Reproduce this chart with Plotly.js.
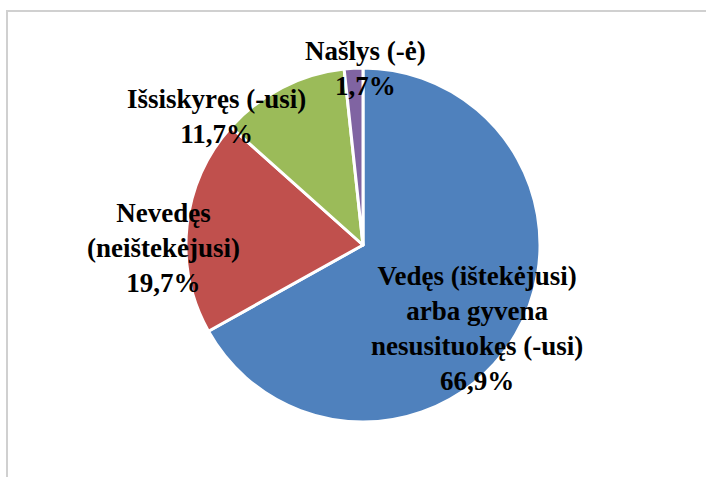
<!DOCTYPE html>
<html>
<head>
<meta charset="utf-8">
<script src="https://cdn.plot.ly/plotly-3.0.1.min.js"></script>
<style>html,body{margin:0;padding:0;background:#fff;}#chart{width:706px;height:477px;}</style>
</head>
<body>
<div id="chart"></div>
<script>
const categories = ["Vedęs (ištekėjusi)<br>arba gyvena<br>nesusituokęs (-usi)", "Nevedęs<br>(neištekėjusi)", "Išsiskyręs (-usi)", "Našlys (-ė)"];
const values = [66.9, 19.7, 11.7, 1.7];
const colors = ["#4F81BD", "#C0504D", "#9BBB59", "#8064A2"];
// label anchor positions (paper fraction) for each slice's text
const labelX = [0.676, 0.231, 0.307, 0.517];
const labelY = [0.311, 0.480, 0.755, 0.857];

const W = 706, H = 477;
const fmt = v => v.toFixed(1).replace('.', ',') + '%';

const trace = {
  type: 'pie',
  values: values,
  labels: categories,
  sort: false,
  direction: 'clockwise',
  rotation: 0,
  textinfo: 'none',
  hoverinfo: 'none',
  marker: {colors: colors, line: {color: '#ffffff', width: 3}},
  domain: {x: [(363-178)/W, (363+178)/W], y: [(232-177)/H, (232+177)/H]},
  showlegend: false
};

const annotations = categories.map((c, i) => ({
  xref: 'paper', yref: 'paper', x: labelX[i], y: labelY[i],
  xanchor: 'center', yanchor: 'middle',
  text: '<b>' + c + '<br>' + fmt(values[i]) + '</b>',
  showarrow: false,
  align: 'center',
  font: {family: "'Liberation Serif', 'Times New Roman', serif", size: 27, color: '#000000'}
}));

const layout = {
  width: W, height: H,
  margin: {l: 0, r: 0, t: 0, b: 0},
  paper_bgcolor: '#ffffff',
  font: {family: "'Liberation Serif', serif"},
  annotations: annotations,
  shapes: [{type: 'rect', xref: 'paper', yref: 'paper', x0: 7/W, x1: 1.05, y0: -0.05, y1: 1 - 11/H,
    line: {color: '#d0d0d0', width: 2}, fillcolor: 'rgba(0,0,0,0)'}]
};

Plotly.newPlot('chart', [trace], layout, {displayModeBar: false, staticPlot: true});
</script>
</body>
</html>
